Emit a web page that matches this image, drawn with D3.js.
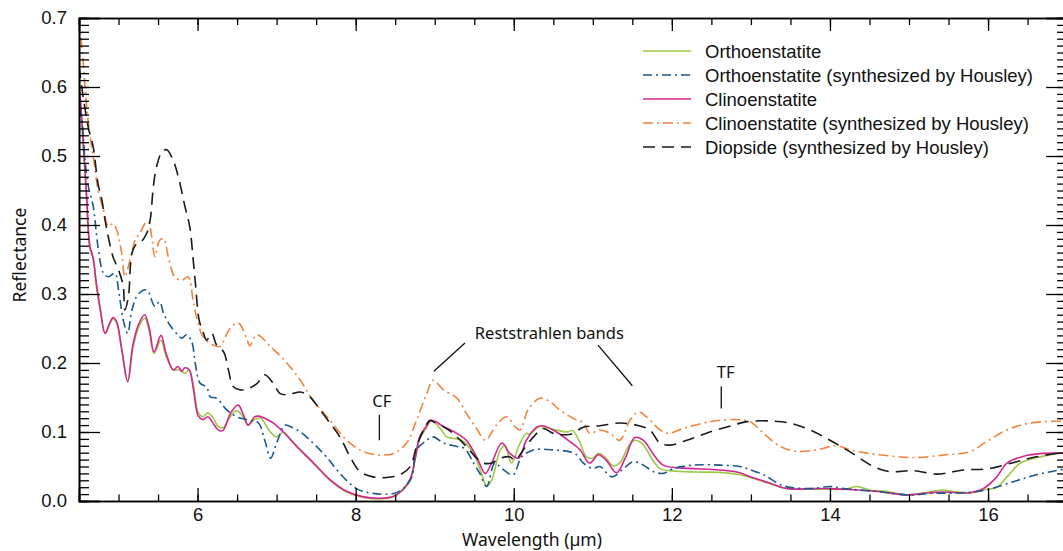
<!DOCTYPE html>
<html>
<head>
<meta charset="utf-8">
<script src="https://cdn.jsdelivr.net/npm/d3@7"></script>
<style>
  html, body { margin: 0; padding: 0; background: #fff; }
  svg { display: block; }
</style>
</head>
<body>
<svg id="chart" width="1063" height="551"></svg>
<script>
// ---------------- DATA ----------------
const seriesNames = [
  "Orthoenstatite",
  "Orthoenstatite (synthesized by Housley)",
  "Clinoenstatite",
  "Clinoenstatite (synthesized by Housley)",
  "Diopside (synthesized by Housley)"
];

const orthoWl = [4.5,4.534,4.567,4.6,4.62,4.64,4.68,4.72,4.77,4.83,4.89,4.93,4.976,5.04,5.116,5.18,5.25,5.33,5.39,5.449,5.537,5.6,5.693,5.78,5.84,5.895,5.95,6.01,6.07,6.13,6.2,6.26,6.32,6.4,6.49,6.57,6.64,6.72,6.8,6.9,7.0,7.085,7.15,7.25,7.46,7.675,7.886,8.1,8.31,8.48,8.6,8.69,8.75,8.81,8.88,8.96,9.07,9.15,9.23,9.34,9.49,9.59,9.657,9.72,9.83,9.89,9.97,10.08,10.16,10.2,10.33,10.5,10.67,10.745,10.84,10.92,11.0,11.07,11.15,11.26,11.34,11.45,11.53,11.62,11.76,11.85,12.02,12.3,12.61,12.86,13.05,13.24,13.45,13.79,14.0,14.2,14.34,14.5,14.7,14.97,15.2,15.43,15.6,15.8,15.94,16.11,16.24,16.41,16.7,17.0];
const orthoR  = [0.60,0.55,0.49,0.43,0.385,0.365,0.35,0.31,0.275,0.243,0.257,0.264,0.258,0.22,0.173,0.22,0.25,0.265,0.245,0.214,0.233,0.21,0.19,0.19,0.185,0.19,0.165,0.128,0.122,0.128,0.12,0.108,0.106,0.12,0.131,0.123,0.11,0.118,0.12,0.103,0.093,0.10,0.093,0.079,0.055,0.03,0.013,0.005,0.003,0.006,0.016,0.03,0.059,0.09,0.103,0.116,0.105,0.093,0.091,0.088,0.069,0.04,0.022,0.03,0.074,0.08,0.055,0.084,0.098,0.097,0.108,0.104,0.10,0.102,0.084,0.064,0.062,0.069,0.064,0.051,0.055,0.079,0.088,0.084,0.059,0.047,0.0435,0.042,0.0415,0.038,0.032,0.025,0.018,0.017,0.017,0.017,0.021,0.016,0.014,0.009,0.012,0.016,0.013,0.012,0.016,0.02,0.035,0.055,0.065,0.071];

const orthoHWl = [4.5,4.534,4.576,4.62,4.68,4.74,4.81,4.87,4.955,5.0,5.06,5.116,5.17,5.25,5.356,5.46,5.52,5.57,5.65,5.756,5.80,5.86,5.926,5.97,6.03,6.115,6.16,6.24,6.37,6.495,6.66,6.77,6.85,6.925,7.0,7.106,7.17,7.3,7.46,7.63,7.8,8.01,8.22,8.48,8.6,8.71,8.77,8.9,8.98,9.11,9.28,9.38,9.49,9.57,9.657,9.76,9.85,9.99,10.1,10.25,10.5,10.77,10.88,11.0,11.09,11.24,11.39,11.51,11.64,11.77,11.89,12.02,12.27,12.61,12.86,12.95,13.16,13.41,13.75,14.0,14.17,14.63,15.01,15.27,15.69,15.98,16.32,16.61,17.0];
const orthoHR  = [0.57,0.555,0.494,0.455,0.427,0.369,0.33,0.325,0.33,0.306,0.262,0.243,0.277,0.30,0.306,0.282,0.289,0.272,0.255,0.24,0.236,0.241,0.231,0.20,0.171,0.165,0.151,0.149,0.132,0.122,0.117,0.113,0.088,0.062,0.084,0.11,0.108,0.10,0.084,0.064,0.04,0.018,0.011,0.011,0.018,0.035,0.074,0.088,0.093,0.084,0.079,0.076,0.055,0.04,0.021,0.055,0.047,0.038,0.064,0.074,0.074,0.069,0.055,0.047,0.05,0.035,0.047,0.057,0.052,0.0425,0.04,0.047,0.052,0.052,0.05,0.047,0.038,0.022,0.018,0.021,0.018,0.0135,0.0087,0.011,0.012,0.016,0.028,0.038,0.047];

const clinoWl = [4.5,4.534,4.567,4.6,4.62,4.64,4.68,4.72,4.77,4.83,4.89,4.93,4.976,5.04,5.116,5.18,5.25,5.33,5.39,5.449,5.537,5.6,5.693,5.75,5.8,5.84,5.895,5.95,6.01,6.07,6.13,6.2,6.26,6.32,6.42,6.515,6.58,6.64,6.72,6.77,6.85,6.96,7.085,7.25,7.46,7.675,7.886,8.1,8.31,8.48,8.6,8.69,8.75,8.81,8.88,8.96,9.11,9.28,9.4,9.53,9.64,9.72,9.85,9.95,10.06,10.16,10.29,10.37,10.54,10.71,10.84,10.96,11.07,11.17,11.3,11.41,11.53,11.64,11.77,11.89,12.1,12.61,12.86,12.99,13.24,13.45,13.79,14.0,14.34,14.63,14.97,15.27,15.43,15.77,15.94,16.11,16.24,16.45,16.7,17.0];
const clinoR  = [0.61,0.555,0.495,0.435,0.39,0.368,0.352,0.315,0.278,0.243,0.258,0.266,0.26,0.22,0.173,0.225,0.255,0.27,0.25,0.216,0.24,0.215,0.19,0.195,0.188,0.193,0.19,0.16,0.123,0.118,0.122,0.112,0.103,0.102,0.128,0.139,0.125,0.11,0.122,0.123,0.12,0.113,0.10,0.08,0.056,0.031,0.014,0.006,0.004,0.007,0.017,0.032,0.06,0.093,0.106,0.117,0.108,0.098,0.088,0.064,0.04,0.055,0.084,0.069,0.062,0.088,0.107,0.109,0.10,0.086,0.074,0.055,0.067,0.059,0.041,0.062,0.092,0.088,0.067,0.052,0.048,0.045,0.041,0.035,0.026,0.018,0.018,0.018,0.016,0.0135,0.0087,0.012,0.013,0.012,0.018,0.035,0.055,0.065,0.069,0.069];

const clinoHWl = [4.5,4.555,4.576,4.61,4.66,4.70,4.74,4.81,4.87,4.93,4.976,5.04,5.08,5.145,5.21,5.27,5.335,5.376,5.42,5.46,5.52,5.57,5.63,5.71,5.80,5.88,5.945,5.99,6.07,6.2,6.28,6.41,6.515,6.62,6.66,6.75,6.92,7.13,7.3,7.46,7.675,7.886,8.1,8.31,8.48,8.645,8.77,8.9,8.98,9.11,9.28,9.4,9.53,9.64,9.78,9.91,10.015,10.08,10.18,10.33,10.46,10.58,10.75,10.88,10.96,11.09,11.22,11.34,11.47,11.575,11.68,11.85,11.955,12.14,12.4,12.61,12.82,12.99,13.16,13.37,13.58,13.83,14.08,14.29,14.63,15.05,15.47,15.77,15.98,16.24,16.53,17.0];
const clinoHR  = [0.70,0.634,0.60,0.557,0.513,0.484,0.451,0.422,0.398,0.402,0.393,0.359,0.325,0.349,0.378,0.388,0.402,0.405,0.383,0.354,0.378,0.38,0.354,0.325,0.32,0.325,0.29,0.265,0.238,0.226,0.224,0.25,0.258,0.236,0.225,0.241,0.224,0.20,0.175,0.146,0.117,0.088,0.0715,0.0667,0.069,0.084,0.117,0.156,0.175,0.161,0.149,0.127,0.105,0.088,0.11,0.122,0.108,0.103,0.132,0.149,0.144,0.132,0.12,0.113,0.098,0.103,0.098,0.088,0.117,0.129,0.122,0.103,0.098,0.105,0.113,0.117,0.118,0.115,0.098,0.079,0.072,0.074,0.08,0.073,0.067,0.063,0.067,0.0715,0.086,0.103,0.113,0.116];

const diopWl = [4.5,4.56,4.62,4.68,4.74,4.79,4.83,4.87,4.93,5.0,5.06,5.08,5.125,5.17,5.23,5.29,5.356,5.40,5.44,5.48,5.55,5.61,5.69,5.756,5.84,5.90,5.945,5.976,6.02,6.07,6.115,6.18,6.24,6.33,6.39,6.45,6.54,6.64,6.75,6.85,6.96,7.04,7.13,7.21,7.3,7.42,7.55,7.675,7.8,7.93,8.055,8.22,8.39,8.56,8.69,8.77,8.86,8.94,8.98,9.15,9.28,9.4,9.53,9.61,9.72,9.83,9.95,10.015,10.12,10.25,10.37,10.5,10.67,10.75,10.88,11.09,11.34,11.55,11.72,11.85,11.98,12.19,12.48,12.78,12.95,13.24,13.49,13.75,14.0,14.25,14.55,14.76,15.05,15.35,15.69,16.02,16.36,16.61,17.0];
const diopR  = [0.63,0.58,0.54,0.513,0.46,0.436,0.407,0.383,0.354,0.335,0.311,0.277,0.296,0.359,0.373,0.376,0.388,0.407,0.455,0.484,0.506,0.509,0.494,0.47,0.427,0.398,0.349,0.311,0.262,0.245,0.233,0.243,0.226,0.216,0.19,0.166,0.161,0.163,0.17,0.183,0.17,0.156,0.154,0.156,0.158,0.151,0.132,0.113,0.093,0.064,0.0425,0.035,0.034,0.038,0.05,0.079,0.103,0.117,0.115,0.105,0.093,0.079,0.062,0.055,0.055,0.062,0.064,0.059,0.074,0.093,0.105,0.098,0.096,0.098,0.107,0.109,0.113,0.11,0.103,0.084,0.081,0.088,0.10,0.11,0.115,0.116,0.113,0.103,0.088,0.0715,0.05,0.0425,0.044,0.039,0.045,0.047,0.057,0.064,0.0715];

const xMajorTicks = [6, 8, 10, 12, 14, 16];
const xTickLabels = ["6", "8", "10", "12", "14", "16"];
const yMajorTicks = [0, 0.1, 0.2, 0.3, 0.4, 0.5, 0.6, 0.7];
const yTickLabels = ["0.0", "0.1", "0.2", "0.3", "0.4", "0.5", "0.6", "0.7"];

// annotations (data units)
const annotations = [
  { text: "CF", x: 8.33, y: 0.136, line: [[8.3, 0.125], [8.3, 0.088]] },
  { text: "TF", x: 12.68, y: 0.178, line: [[12.625, 0.166], [12.625, 0.134]] },
  { text: "Reststrahlen bands", x: 10.45, y: 0.235,
    line: [[9.383, 0.229], [8.99, 0.188]], line2: [[11.066, 0.226], [11.5, 0.167]] }
];

// ---------------- DRAW ----------------
const svg = d3.select("#chart");
const W = 1063, H = 551;
const x = d3.scaleLinear().domain([4.5, 17]).range([79, 1067.1]);
const y = d3.scaleLinear().domain([0, 0.7]).range([501, 18]);

svg.append("rect").attr("width", W).attr("height", H).attr("fill", "#fff");

const styles = [
  { color: "#9cc846", dash: null },
  { color: "#1b5a8a", dash: "9,4,2,4" },
  { color: "#d4268e", dash: null },
  { color: "#f0843c", dash: "10,4,2,4" },
  { color: "#1a1a1a", dash: "12,7" }
];

const series = [
  { wl: orthoWl, r: orthoR },
  { wl: orthoHWl, r: orthoHR },
  { wl: clinoWl, r: clinoR },
  { wl: clinoHWl, r: clinoHR },
  { wl: diopWl, r: diopR }
];

svg.append("defs").append("clipPath").attr("id", "clip")
  .append("rect").attr("x", 79).attr("y", 18).attr("width", 1067.1 - 79).attr("height", 501 - 18);

const line = d3.line().x(d => x(d[0])).y(d => y(d[1])).curve(d3.curveCatmullRom.alpha(0.5));

const plot = svg.append("g").attr("clip-path", "url(#clip)");
const drawOrder = [0, 2, 1, 3, 4];
drawOrder.forEach(i => {
  const s = series[i];
  const pts = s.wl.map((w, k) => [w, s.r[k]]);
  plot.append("path")
    .attr("d", line(pts))
    .attr("fill", "none")
    .attr("stroke", styles[i].color)
    .attr("stroke-width", 1.6)
    .attr("stroke-dasharray", styles[i].dash)
    .attr("stroke-linejoin", "round");
});

// ---------------- AXES ----------------
const tickFont = "'Liberation Sans', Arial, sans-serif";
const xMinor = d3.range(5, 17.01, 0.5);
const yMinor = d3.range(0, 0.7001, 0.01);

function styleAxis(g) {
  g.selectAll("path.domain").attr("stroke", "#000").attr("stroke-width", 1.6);
  g.selectAll(".tick line").attr("stroke", "#000").attr("stroke-width", 1.3);
  g.selectAll("text").attr("font-family", tickFont).attr("font-size", 18.5).attr("fill", "#111");
}

// bottom
svg.append("g").attr("transform", `translate(0,${y(0)})`)
  .call(d3.axisBottom(x).tickValues(xMinor).tickSize(-6.5).tickFormat(""))
  .call(styleAxis);
svg.append("g").attr("transform", `translate(0,${y(0)})`)
  .call(d3.axisBottom(x).tickValues(xMajorTicks).tickSize(-13).tickPadding(7)
        .tickFormat((d, i) => xTickLabels[i]))
  .call(styleAxis);
// top
svg.append("g").attr("transform", `translate(0,${y(0.7)})`)
  .call(d3.axisTop(x).tickValues(xMinor).tickSize(-7).tickFormat(""))
  .call(styleAxis);
svg.append("g").attr("transform", `translate(0,${y(0.7)})`)
  .call(d3.axisTop(x).tickValues(xMajorTicks).tickSize(-13).tickFormat(""))
  .call(styleAxis);
// left
svg.append("g").attr("transform", `translate(${x(4.5)},0)`)
  .call(d3.axisLeft(y).tickValues(yMinor).tickSize(-10).tickFormat(""))
  .call(styleAxis);
svg.append("g").attr("transform", `translate(${x(4.5)},0)`)
  .call(d3.axisLeft(y).tickValues(yMajorTicks).tickSize(-21).tickPadding(12)
        .tickFormat((d, i) => yTickLabels[i]))
  .call(styleAxis);
// right
svg.append("g").attr("transform", `translate(${x(17)},0)`)
  .call(d3.axisRight(y).tickValues(yMinor).tickSize(-10).tickFormat(""))
  .call(styleAxis);
svg.append("g").attr("transform", `translate(${x(17)},0)`)
  .call(d3.axisRight(y).tickValues(yMajorTicks).tickSize(-21).tickFormat(""))
  .call(styleAxis);

// axis titles
const titleFont = "'Noto Sans', 'Open Sans', sans-serif";
svg.append("text").attr("x", 532).attr("y", 546)
  .attr("text-anchor", "middle").attr("font-family", titleFont).attr("font-size", 17.5)
  .attr("fill", "#111").text("Wavelength (µm)");
svg.append("text").attr("transform", "translate(26,255) rotate(-90)")
  .attr("text-anchor", "middle").attr("font-family", titleFont).attr("font-size", 17.5)
  .attr("fill", "#111").text("Reflectance");

// annotations
annotations.forEach(a => {
  svg.append("text").attr("x", x(a.x)).attr("y", y(a.y))
    .attr("text-anchor", "middle").attr("font-family", titleFont).attr("font-size", 16.5)
    .attr("fill", "#111").text(a.text);
  [a.line, a.line2].filter(Boolean).forEach(l => {
    svg.append("line")
      .attr("x1", x(l[0][0])).attr("y1", y(l[0][1]))
      .attr("x2", x(l[1][0])).attr("y2", y(l[1][1]))
      .attr("stroke", "#111").attr("stroke-width", 1.3);
  });
});

// legend
const legend = svg.append("g").attr("transform", "translate(643,51)");
seriesNames.forEach((name, i) => {
  const g = legend.append("g").attr("transform", `translate(0,${i * 24})`);
  g.append("line").attr("x1", 0).attr("x2", 48).attr("y1", 0).attr("y2", 0)
    .attr("stroke", styles[i].color).attr("stroke-width", 1.6)
    .attr("stroke-dasharray", styles[i].dash);
  g.append("text").attr("x", 62).attr("y", 6.6)
    .attr("font-family", tickFont).attr("font-size", 18.5).attr("fill", "#111")
    .text(name);
});
</script>
</body>
</html>
